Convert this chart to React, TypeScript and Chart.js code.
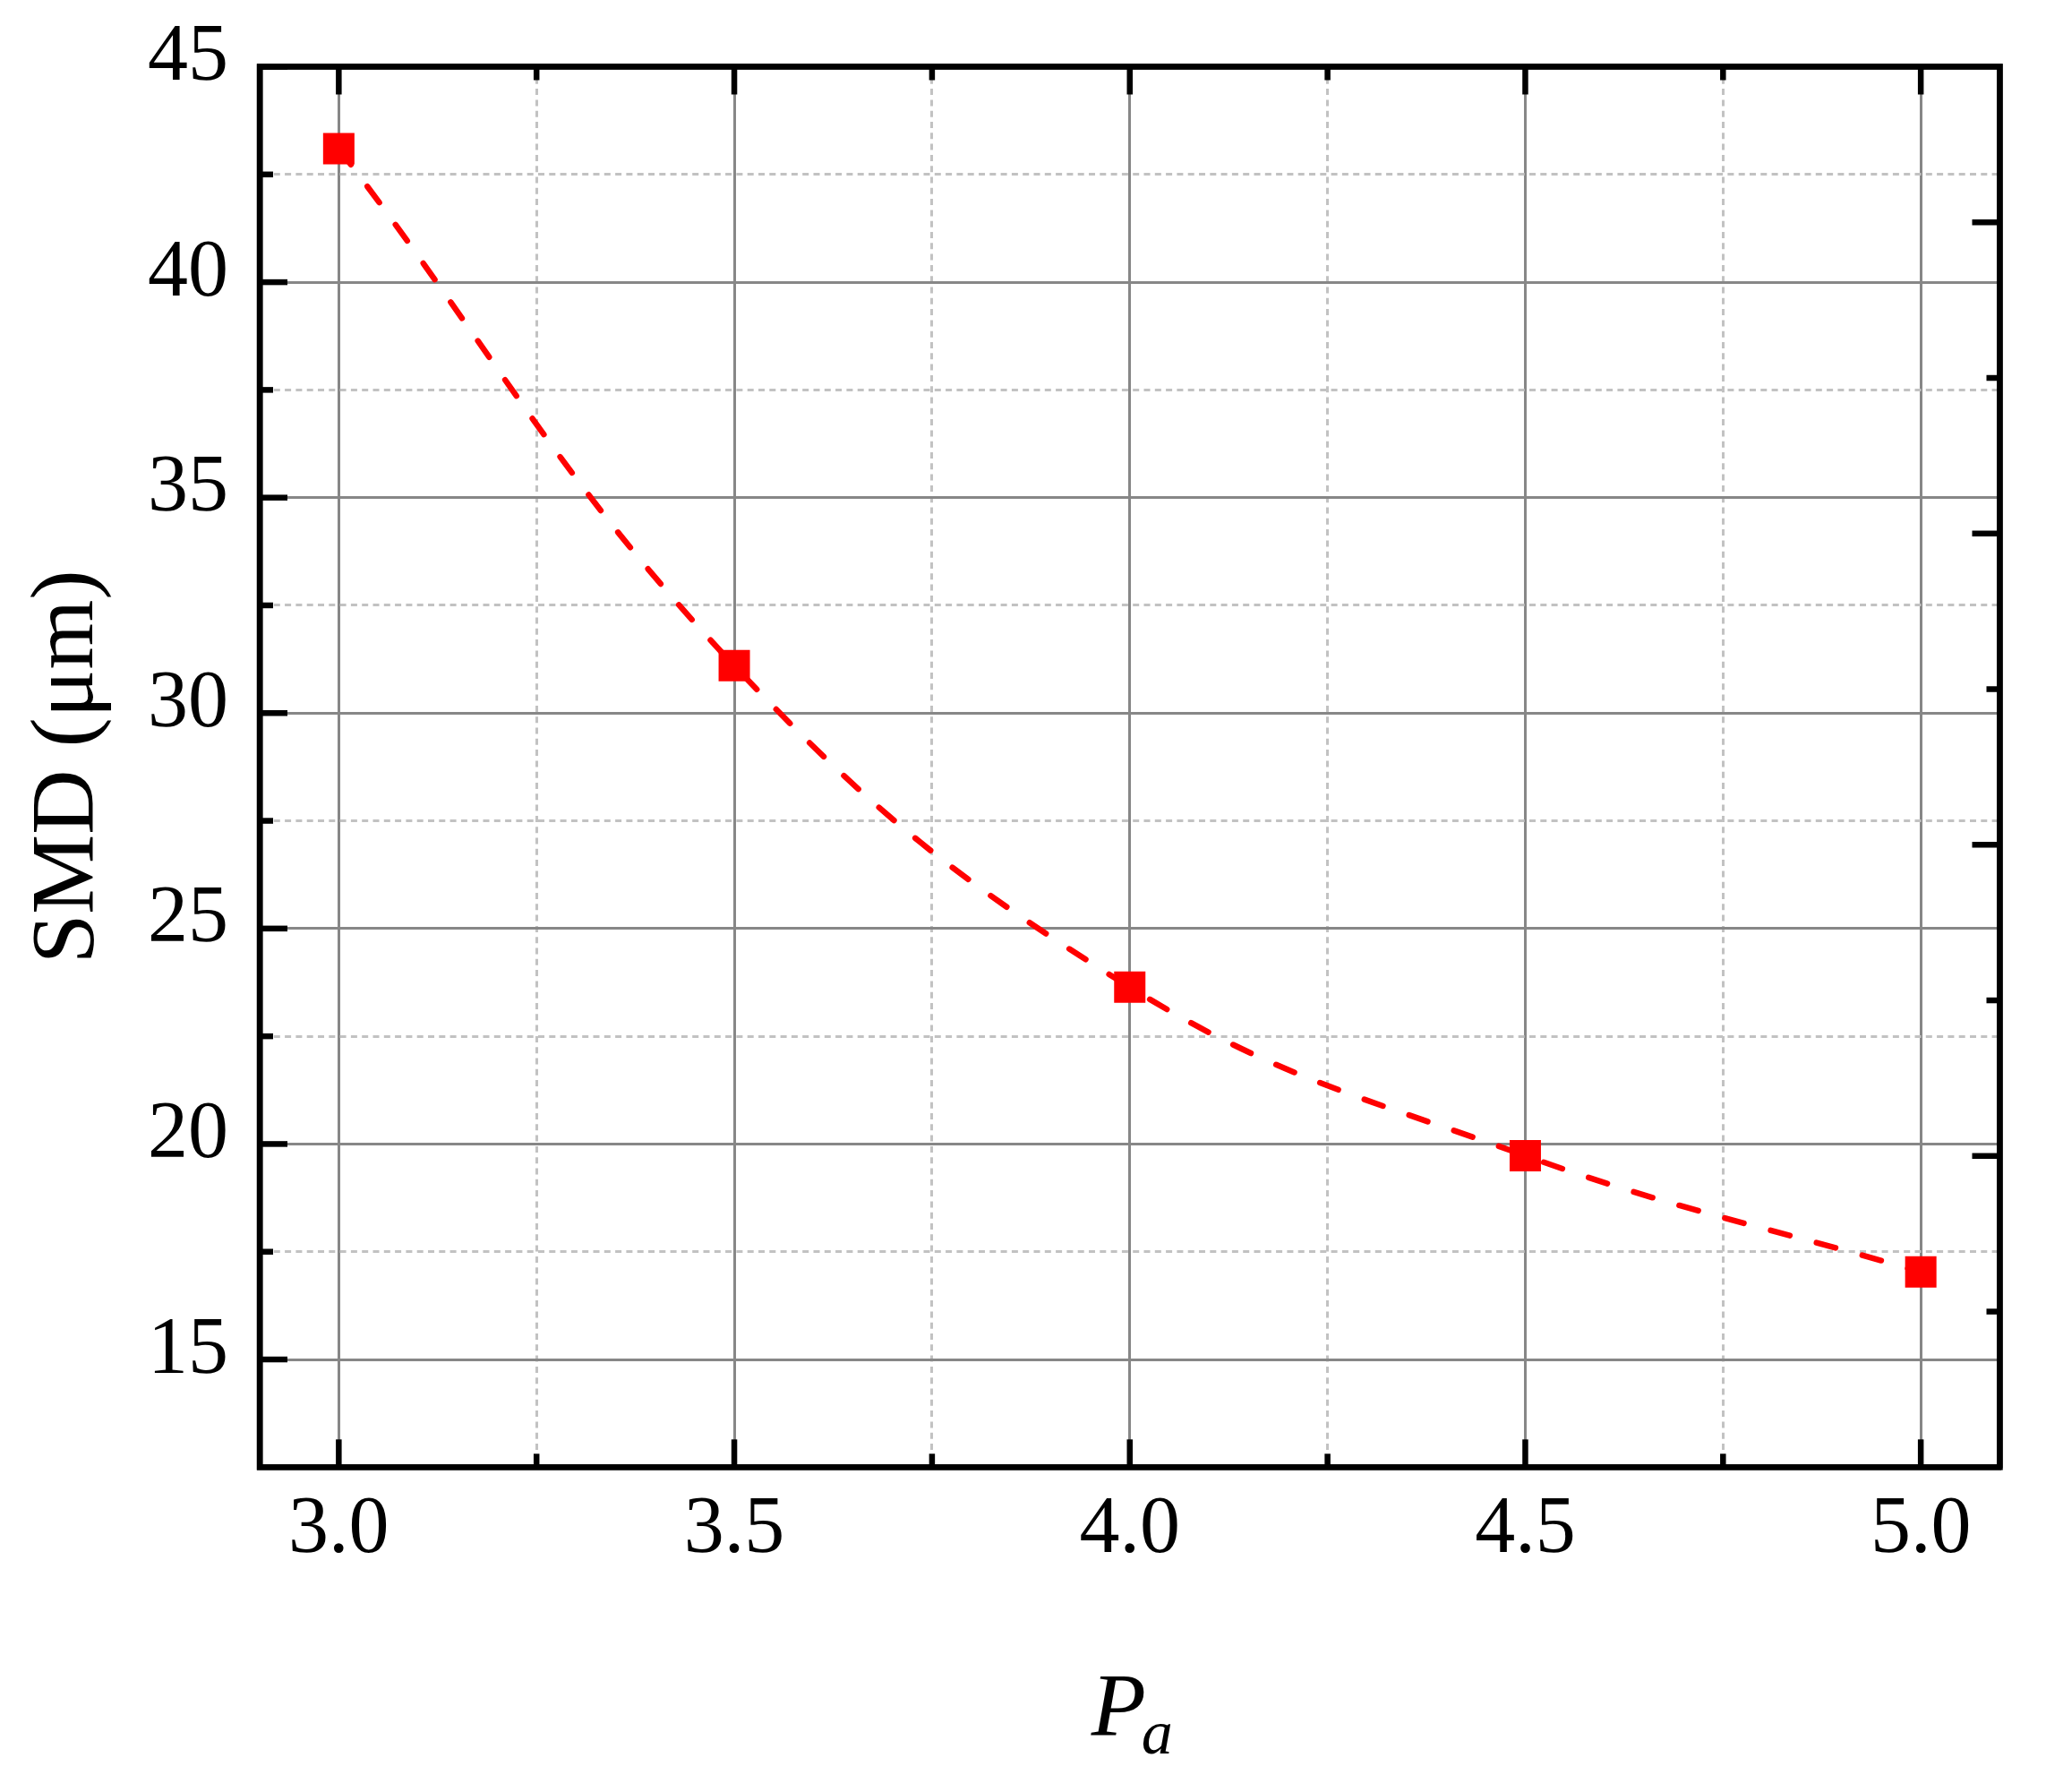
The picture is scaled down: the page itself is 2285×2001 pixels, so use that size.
import React, { useEffect, useRef } from 'react';
import { Chart, registerables } from 'chart.js';

Chart.register(...registerables);

// ---- data ----
const xValues = [3.0, 3.5, 4.0, 4.5, 5.0];
const smdValues = [43.1, 31.1, 23.64, 19.73, 17.03];

// ---- ticks ----
const xMajorTicks = [3.0, 3.5, 4.0, 4.5, 5.0];
const xMinorTicks = [3.25, 3.75, 4.25, 4.75];
const xTickLabels = ['3.0', '3.5', '4.0', '4.5', '5.0'];
const yMajorTicks = [15, 20, 25, 30, 35, 40, 45];
const yMinorTicks = [17.5, 22.5, 27.5, 32.5, 37.5, 42.5];
const yTickLabels = ['15', '20', '25', '30', '35', '40', '45'];
const rightMajorTicks = [1, 2, 3, 4];
const rightMinorTicks = [0.5, 1.5, 2.5, 3.5];

// ---- text ----
const xTitleMain = 'P';
const xTitleSub = 'a';
const yTitle = 'SMD (μm)';

const SERIF = '"Liberation Serif", "Times New Roman", serif';
const CANVAS_W = 2269;
const CANVAS_H = 1985;
const MAJOR_GRID = '#878787';
const MINOR_GRID = '#c2c2c2';
const FRAME_W = 6.5;
const MAJOR_TICK = 31;
const MINOR_TICK = 15;

const isIn = (arr: number[], v: number) => arr.some((a) => Math.abs(a - v) < 1e-9);

const zeroPadding = (s: any) => {
  s.paddingTop = 0;
  s.paddingBottom = 0;
  s.paddingLeft = 0;
  s.paddingRight = 0;
};

const frameAndTicks = {
  id: 'frameAndTicks',
  afterDatasetsDraw(chart: any) {
    const { ctx, chartArea: a, scales } = chart;
    ctx.save();
    ctx.strokeStyle = '#000';
    ctx.lineWidth = FRAME_W;
    ctx.lineCap = 'butt';
    ctx.setLineDash([]);
    const seg = (x1: number, y1: number, x2: number, y2: number) => {
      ctx.beginPath();
      ctx.moveTo(x1, y1);
      ctx.lineTo(x2, y2);
      ctx.stroke();
    };
    const xs = scales.x;
    const ys = scales.y;
    const y2s = scales.y2;
    xMajorTicks.forEach((v) => {
      const p = xs.getPixelForValue(v);
      seg(p, a.bottom, p, a.bottom - MAJOR_TICK);
      seg(p, a.top, p, a.top + MAJOR_TICK);
    });
    xMinorTicks.forEach((v) => {
      const p = xs.getPixelForValue(v);
      seg(p, a.bottom, p, a.bottom - MINOR_TICK);
      seg(p, a.top, p, a.top + MINOR_TICK);
    });
    yMajorTicks.forEach((v) => {
      const p = ys.getPixelForValue(v);
      seg(a.left, p, a.left + MAJOR_TICK, p);
    });
    yMinorTicks.forEach((v) => {
      const p = ys.getPixelForValue(v);
      seg(a.left, p, a.left + MINOR_TICK, p);
    });
    rightMajorTicks.forEach((v) => {
      const p = y2s.getPixelForValue(v);
      seg(a.right, p, a.right - MAJOR_TICK, p);
    });
    rightMinorTicks.forEach((v) => {
      const p = y2s.getPixelForValue(v);
      seg(a.right, p, a.right - MINOR_TICK, p);
    });
    ctx.lineJoin = 'miter';
    ctx.strokeRect(a.left, a.top, a.right - a.left, a.bottom - a.top);
    ctx.restore();
  },
  afterDraw(chart: any) {
    const { ctx, chartArea: a } = chart;
    ctx.save();
    ctx.fillStyle = '#000';
    ctx.textAlign = 'left';
    ctx.textBaseline = 'alphabetic';
    const mainFont = `italic 100px ${SERIF}`;
    const subFont = `italic 70px ${SERIF}`;
    ctx.font = mainFont;
    const wP = ctx.measureText(xTitleMain).width;
    ctx.font = subFont;
    const wA = ctx.measureText(xTitleSub).width;
    const cx = (a.left + a.right) / 2;
    const start = cx - (wP + wA) / 2 + 5;
    ctx.font = mainFont;
    ctx.fillText(xTitleMain, start, a.bottom + 298.7);
    ctx.font = subFont;
    ctx.fillText(xTitleSub, start + wP - 5, a.bottom + 320);
    ctx.restore();
  },
};

export default function App() {
  const canvasRef = useRef<HTMLCanvasElement | null>(null);

  useEffect(() => {
    const canvas = canvasRef.current;
    if (!canvas) return;
    const tickFont = { family: SERIF, size: 90, lineHeight: 1.2 };

    const chart = new Chart(canvas, {
      type: 'line',
      data: {
        datasets: [
          {
            label: 'SMD',
            data: xValues.map((x, i) => ({ x, y: smdValues[i] })),
            borderColor: '#ff0000',
            backgroundColor: '#ff0000',
            borderWidth: 6.5,
            borderDash: [22, 31],
            borderCapStyle: 'round',
            tension: 0.4,
            pointStyle: 'rect',
            pointRadius: 24.75,
            pointHoverRadius: 24.75,
            pointBackgroundColor: '#ff0000',
            pointBorderColor: '#ff0000',
            pointBorderWidth: 0,
            xAxisID: 'x',
            yAxisID: 'y',
          },
        ],
      },
      options: {
        responsive: false,
        animation: false,
        devicePixelRatio: 1,
        events: [],
        layout: { padding: 0 },
        plugins: {
          legend: { display: false },
          tooltip: { enabled: false },
          title: { display: false },
        },
        scales: {
          x: {
            type: 'linear',
            position: 'bottom',
            min: 2.9,
            max: 5.1,
            afterBuildTicks: (s: any) => {
              s.ticks = [...xMajorTicks, ...xMinorTicks]
                .sort((p, q) => p - q)
                .map((v) => ({ value: v }));
            },
            afterFit: (s: any) => {
              s.height = 354.7;
              zeroPadding(s);
            },
            ticks: {
              autoSkip: false,
              maxRotation: 0,
              minRotation: 0,
              padding: 17,
              color: '#000',
              font: tickFont,
              callback: (v: any) => {
                const i = xMajorTicks.findIndex((m) => Math.abs(m - v) < 1e-9);
                return i >= 0 ? xTickLabels[i] : '';
              },
            },
            grid: {
              drawTicks: false,
              lineWidth: 3,
              color: (c: any) => (c.tick && isIn(xMinorTicks, c.tick.value) ? MINOR_GRID : MAJOR_GRID),
            },
            border: {
              display: true,
              color: '#000',
              width: FRAME_W,
              dash: (c: any) => (c.tick && isIn(xMinorTicks, c.tick.value) ? [7, 5.3] : []),
            },
            title: { display: false },
          },
          y: {
            type: 'linear',
            position: 'left',
            min: 12.5,
            max: 45,
            afterBuildTicks: (s: any) => {
              s.ticks = [...yMajorTicks, ...yMinorTicks]
                .sort((p, q) => p - q)
                .map((v) => ({ value: v }));
            },
            afterFit: (s: any) => {
              s.width = 282;
              zeroPadding(s);
            },
            ticks: {
              autoSkip: false,
              padding: 35,
              labelOffset: -9,
              color: '#000',
              font: tickFont,
              callback: (v: any) => {
                const i = yMajorTicks.findIndex((m) => Math.abs(m - v) < 1e-9);
                return i >= 0 ? yTickLabels[i] : '';
              },
            },
            grid: {
              drawTicks: false,
              lineWidth: 3,
              color: (c: any) => (c.tick && isIn(yMinorTicks, c.tick.value) ? MINOR_GRID : MAJOR_GRID),
            },
            border: {
              display: true,
              color: '#000',
              width: FRAME_W,
              dash: (c: any) => (c.tick && isIn(yMinorTicks, c.tick.value) ? [7, 5.3] : []),
            },
            title: {
              display: true,
              text: yTitle,
              color: '#000',
              font: { family: SERIF, size: 100, lineHeight: 1.2 },
              padding: { top: 9, bottom: 0 },
            },
          },
          x2: {
            type: 'linear',
            position: 'top',
            min: 2.9,
            max: 5.1,
            afterFit: (s: any) => {
              s.height = 66.5;
              zeroPadding(s);
            },
            ticks: { display: false },
            grid: { display: false, drawTicks: false },
            border: { display: true, color: '#000', width: FRAME_W },
          },
          y2: {
            type: 'linear',
            position: 'right',
            min: 0,
            max: 4.5,
            afterFit: (s: any) => {
              s.width = 43.5;
              zeroPadding(s);
            },
            ticks: { display: false },
            grid: { display: false, drawTicks: false },
            border: { display: true, color: '#000', width: FRAME_W },
          },
        },
      } as any,
      plugins: [frameAndTicks],
    });

    return () => {
      chart.destroy();
    };
  }, []);

  return (
    <canvas
      ref={canvasRef}
      width={CANVAS_W}
      height={CANVAS_H}
      style={{ display: 'block', width: CANVAS_W, height: CANVAS_H }}
    />
  );
}
